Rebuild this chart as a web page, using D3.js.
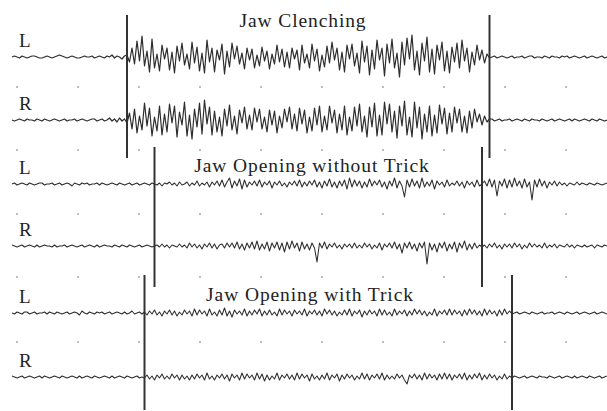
<!DOCTYPE html>
<html lang="en">
<head>
<meta charset="UTF-8">
<script src="https://d3js.org/d3.v7.min.js"></script>
<style>
  body { margin: 0; background: #fff; }
  #chart { width: 607px; height: 411px; }
  text { font-family: "Liberation Serif", "DejaVu Serif", serif; fill: #222; }
</style>
</head>
<body>
<div id="chart"></div>
<script>
// EMG samples, one value every sample (arbitrary units, + is up)
const clenchL = [
  0,1,0,-1,1,0,-1,0,1,1, 0,-1,-1,0,1,0,-1,0,1,2, 1,0,-1,0,1,0,-1,-1,0,1, 0,0,1,-1,0,1,0,-1,1,0, 2,-1,1,0,-2,1,
  2,-5,9,-7,
  16,-4,21,-9,6,-15,18,-11,3,-14, 12,-2,9,-13,5,-16,11,-4,14,-8, 3,-12,15,-6,10,-14,4,-16,17,-5,
  9,-15,7,-3,13,-17,6,-10,14,-2, 11,-7,4,-12,9,-3,8,-11,2,-9, 10,-4,6,-12,3,-7,12,-5,8,-10,
  5,-11,9,-2,7,-13,12,-6,3,-11, 13,-4,8,-14,2,-10,11,-6,15,-3, 9,-13,5,-15,12,-2,13,-9,4,-16,
  16,-5,11,-18,7,-12,17,-3,9,-19, 13,-6,18,-11,4,-20,15,-8,19,-2, 22,-13,6,-18,14,-4,20,-15,8,-17,
  12,-3,15,-14,6,-16,10,-5,14,-11, 17,-4,9,-15,5,-8,12,-3,7,-6, 3,-1,
  0,1,-1,0,1,0,-1,0,1,-1, 0,0,1,-1,0,1,1,-1,0,0, -1,1,0,-1,1,0,0,-1,1,0, 1,-1,0,1,0,-1,0,1,-1,0, 1,0,-1,0,1,-1,0
];
const clenchR = [
  0,-1,0,1,0,-1,1,0,0,-1, 1,0,-1,1,0,-1,0,1,0,-1, 0,1,-1,0,0,1,-1,0,1,0, -1,0,1,1,-1,0,1,-1,0,2, -1,1,-2,2,-1,1,
  -3,7,-9,11,
  -13,4,-10,17,-6,12,-16,3,-11,14, -15,6,-12,16,-3,14,-17,8,-5,18, -16,5,-19,11,-7,17,-14,20,-4,13,
  -15,9,-12,3,-16,11,-6,15,-10,4, -14,10,-3,13,-9,5,-10,12,-2,11, -9,3,-12,10,-5,9,-13,4,-8,11,
  -2,13,-9,6,-11,12,-4,10,-13,3, -11,12,-5,14,-12,4,-10,14,-3,10, -13,6,-10,14,-15,3,-11,13,-6,16,
  -12,4,-17,13,-7,17,-16,5,-15,18, -4,16,-12,9,-18,14,-6,19,-15,3, -17,18,-8,13,-19,6,-12,14,-16,5,
  -13,15,-4,12,-14,7,-12,13,-3,11, -12,4,-13,9,-8,11,-2,6,-5,4, -2,1,
  1,-1,0,1,-1,0,0,1,-1,0, 1,0,-1,1,0,-1,1,0,0,-1, 1,0,-1,0,1,-1,0,1,0,-1, 0,1,-1,1,0,-1,0,1,0,-1, 1,0,-1,1,0,-1,0
];
const openL = [
  0,1,-1,0,1,0,-1,1,0,-1, 0,1,1,-1,0,0,1,-1,0,1, -1,0,1,0,-2,1,0,-1,1,0, 1,-1,0,0,1,-1,1,0,-1,0, 1,0,-1,1,0,-1,0,1,-1,0, 1,-1,0,1,0,-1,1,
  0,-1,1,-2,1,0,2,-1,1,-2, 2,-1,0,2,-2,1,-1,3,-2,1, -1,2,-3,2,-1,3,-2,4,-3,2, 6,-4,3,-2,5,-5,4,-3,2,-1,
  3,-2,4,-3,2,-1,3,-4,2,-1, 3,-2,1,-3,2,-1,3,-2,4,-3, 2,-2,3,-1,4,-3,2,-4,3,-2, 5,-3,2,-4,3,-2,4,-5,6,-3,
  4,-2,3,-4,2,-3,5,-2,3,-1, 4,-3,2,-5,3,-2,6,-4,3,-2, -13,4,-3,5,-2,3,-4,6,-3,2, -2,4,-5,3,-1,2,-3,4,-2,1,
  -1,3,-2,2,-4,3,-1,2,-3,4, -2,0,
  3,-2,5,-3,4,-12,3,-2,5,-4, 4,-3,6,-2,3,-4,5,-3,2,-16, 4,-3,5,-2,3,-4,2,-1,3,-2, 2,-1,1,-2,1,0,-1,2,-1,1, 0,-1,1,0,-1,1,0,-1,0,1
];
const openR = [
  1,0,-1,0,1,-1,0,1,0,-1, 1,-1,0,1,0,0,-1,1,-1,0, 0,1,-1,0,1,0,-1,0,1,-1, 0,1,0,-1,1,-1,0,1,0,0, -1,1,0,-1,1,0,-1,1,0,-1, 0,1,-1,0,1,0,-1,
  0,1,-1,2,-1,1,-2,1,0,-1, 2,-1,1,-2,3,-1,2,-2,1,-3, 2,-1,3,-2,2,-3,1,2,-2,3, -1,3,-2,4,-3,2,-4,3,-2,4,
  -3,5,-4,2,-3,4,-5,3,-2,4, -4,3,-6,4,-3,5,-2,3,-5,4, -3,2,-4,3,-2,-16,3,-2,4,-3, 2,-1,3,-2,1,-3,2,-1,2,-2,
  3,-2,1,-2,3,-1,2,-3,1,-2, 3,-4,2,-1,3,-2,4,-3,2,-7, 3,-2,4,-3,2,-5,3,-2,4,-18, 3,-4,2,-6,3,-2,4,-5,2,-3,
  4,-6,3,-2,5,-4,2,-3,3,-2, 1,-1,
  1,-2,2,-1,3,-2,1,-3,2,-1, 2,-2,3,-1,2,-3,1,-2,3,-1, 2,-1,1,-2,3,-2,1,-1,2,-2, 1,0,-1,2,-1,1,-2,1,0,-1, 1,-1,0,1,-2,1,0,-1,1,0
];
const trickL = [
  0,-1,1,0,-1,1,1,-1,0,1, -1,0,0,1,-1,1,0,-1,1,0, -1,0,1,-1,0,1,0,-2,2,0, -1,1,0,-1,1,0,1,-1,0,1, -1,0,1,0,-1,1,-1,0,2,-1, 0,1,-1,
  1,-2,2,-1,3,-2,1,-3,2,-1, 3,-2,2,-3,1,-2,3,-1,2,-3, 4,-2,3,-1,2,-3,4,-2,1,-3, 3,-2,5,-3,2,-4,3,-1,2,-2,
  4,-3,2,-2,3,-1,4,-3,2,-2, 3,-2,1,-3,4,-2,3,-1,2,-3, 3,-1,2,-2,4,-3,2,-1,3,-2, 2,-3,4,-1,3,-2,2,-3,1,-2,
  3,-2,4,-3,2,-1,3,-4,2,-2, 3,-1,2,-3,4,-2,3,-2,1,-3, 4,-2,2,-1,3,-3,2,-2,4,-1, 3,-2,2,-3,1,-2,4,-3,2,-1,
  3,-2,4,-2,3,-1,2,-3,3,-2, 4,-1,3,-2,2,-3,4,-2,3,-1, 2,-3,3,-2,4,-1,2,-1,
  0,1,-1,0,1,0,-1,1,0,-1, 0,1,-1,0,0,1,-1,0,1,0, -1,1,0,-1,0,1,-1,0,1,0, -1,0,1,-1,0,1,0,-1
];
const trickR = [
  1,0,-1,0,1,-1,0,1,0,-1, 0,1,-1,1,0,-1,0,1,0,-1, 1,0,-1,0,1,0,-1,1,-1,0, 1,0,-1,1,0,-1,0,1,0,-1, 1,-1,0,1,0,-1,1,0,-1,0, 1,-1,0,
  -1,2,-2,1,-3,2,-1,3,-2,1, -2,3,-1,2,-3,2,-2,1,-3,2, -2,3,-1,2,-3,4,-2,1,-3,2, -1,3,-2,2,-4,3,-1,2,-3,4,
  -2,3,-1,2,-3,4,-2,3,-4,2, -3,1,-2,4,-3,2,-1,3,-2,2, -3,4,-2,3,-1,2,-4,3,-2,1, -3,2,-2,4,-3,2,-1,3,-4,2,
  -2,3,-1,2,-3,1,-2,4,-2,3, -3,2,-1,3,-2,4,-3,2,-2,1, -2,3,-1,2,-3,-7,2,-1,3,-2, 2,-3,4,-2,3,-1,2,-3,3,-2,
  4,-2,3,-3,2,-1,3,-2,4,-3, 2,-2,3,-1,4,-3,2,-2,3,-1, 2,-3,1,-2,3,-2,1,-1,
  1,0,-1,0,1,-1,0,1,0,-1, 1,0,0,-1,1,0,-1,0,1,-1, 0,1,0,-1,1,-1,0,1,0,-1, 1,0,-1,0,1,-1,0,1
];

const traceLabels = ["L", "R", "L", "R", "L", "R"];
const tasks = ["Jaw Clenching", "Jaw Opening without Trick", "Jaw Opening with Trick"];
const onsets = [46, 57, 53];     // sample index of task start marker
const offsets = [191, 188, 200]; // sample index of task end marker

const traces = [clenchL, clenchR, openL, openR, trickL, trickR];

const width = 607, height = 411;
const svg = d3.select("#chart").append("svg")
  .attr("width", width).attr("height", height);

const nSamples = clenchL.length;
const x = d3.scaleLinear().domain([0, nSamples - 1]).range([12, 607]);

const baselines = [57, 120, 184, 246, 313, 377];

// grid dots between the traces
const dotRows = [87, 150, 214, 277, 342];
const dotCols = d3.range(10).map(k => 17 + 61 * k);
dotRows.forEach(r => {
  svg.append("g").selectAll("rect")
    .data(dotCols)
    .join("rect")
    .attr("x", d => d - 0.75)
    .attr("y", r - 0.75)
    .attr("width", 1.5)
    .attr("height", 1.5)
    .attr("fill", "#8a8a8a");
});

// traces
traces.forEach((arr, i) => {
  const b = baselines[i];
  const y = d3.scaleLinear().domain([-25, 25]).range([b + 25, b - 25]);
  const line = d3.line().x((d, j) => x(j)).y(d => y(d));
  svg.append("path")
    .datum(arr)
    .attr("d", line)
    .attr("fill", "none")
    .attr("stroke", "#2e2e2e")
    .attr("stroke-width", i < 2 ? 1.2 : 1.05)
    .attr("stroke-linejoin", "round");

  svg.append("text")
    .attr("x", 19)
    .attr("y", b - 10)
    .attr("font-size", 19)
    .text(traceLabels[i]);
});

// task markers
const markerSpans = [[15, 158], [147, 287], [275, 410]];
tasks.forEach((t, k) => {
  [onsets[k], offsets[k]].forEach(s => {
    svg.append("line")
      .attr("x1", x(s)).attr("x2", x(s))
      .attr("y1", markerSpans[k][0]).attr("y2", markerSpans[k][1])
      .attr("stroke", "#333")
      .attr("stroke-width", 2);
  });
});

// titles
const titlePos = [[303, 27], [312, 172], [310, 301]];
tasks.forEach((t, k) => {
  svg.append("text")
    .attr("x", titlePos[k][0])
    .attr("y", titlePos[k][1])
    .attr("text-anchor", "middle")
    .attr("font-size", 19.5)
    .attr("letter-spacing", 0.9)
    .text(t);
});
</script>
</body>
</html>
